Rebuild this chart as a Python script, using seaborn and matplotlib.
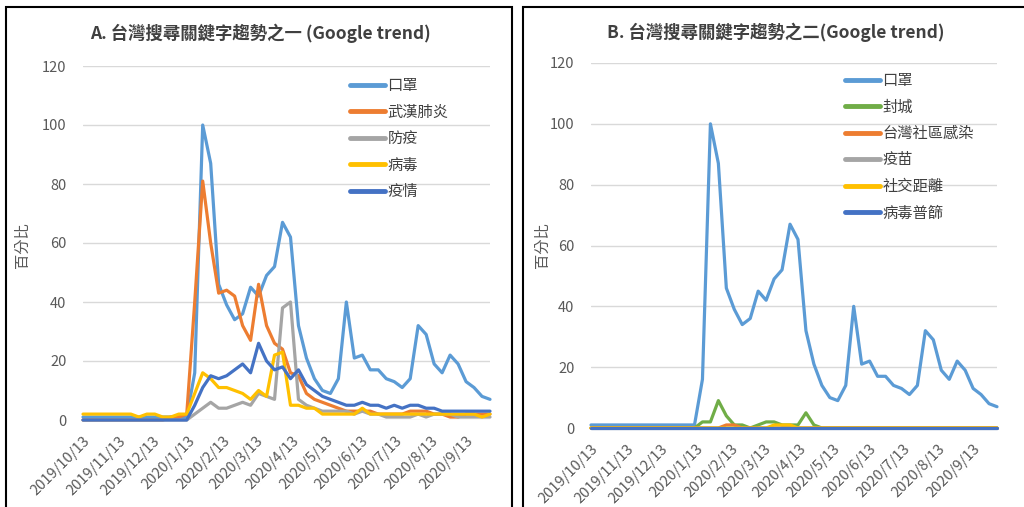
import pandas as pd
import numpy as np
import matplotlib
matplotlib.use('Agg')
import matplotlib.pyplot as plt
import seaborn as sns

sns.set_style('white')
plt.rcParams['font.family'] = ['Noto Sans CJK TC', 'DejaVu Sans']

# 每週資料 2019/10/13 ~ 2020/10/4 (52 週)
dates = pd.date_range('2019-10-13', periods=52, freq='7D')

mask = [1, 1, 1, 1, 1, 1, 1, 1, 1, 1, 1, 1, 1, 1,
        16, 100, 87, 46, 39, 34, 36, 45, 42, 49, 52, 67, 62, 32, 21, 14, 10, 9, 14, 40,
        21, 22, 17, 17, 14, 13, 11, 14, 32, 29, 19, 16, 22, 19, 13, 11, 8, 7]
wuhan = [0, 0, 0, 0, 0, 0, 0, 0, 0, 0, 0, 1, 1, 2,
         40, 81, 60, 43, 44, 42, 32, 27, 46, 32, 26, 24, 16, 15, 9, 7, 6, 5, 4, 3,
         3, 3, 3, 2, 2, 2, 2, 3, 3, 3, 2, 2, 1, 1, 2, 2, 2, 2]
fangyi = [0, 0, 0, 0, 0, 0, 0, 0, 0, 0, 0, 0, 0, 0,
          2, 4, 6, 4, 4, 5, 6, 5, 9, 8, 7, 38, 40, 7, 5, 4, 3, 3, 3, 3,
          2, 3, 2, 2, 1, 1, 1, 1, 2, 1, 2, 2, 2, 1, 1, 1, 1, 1]
virus = [2, 2, 2, 2, 2, 2, 2, 1, 2, 2, 1, 1, 2, 2,
         9, 16, 14, 11, 11, 10, 9, 7, 10, 8, 22, 23, 5, 5, 4, 4, 2, 2, 2, 2,
         2, 4, 2, 2, 2, 2, 2, 2, 2, 2, 2, 2, 2, 2, 2, 2, 1, 2]
epidemic = [0, 0, 0, 0, 0, 0, 0, 0, 0, 0, 0, 0, 0, 0,
            5, 11, 15, 14, 15, 17, 19, 16, 26, 20, 17, 18, 14, 17, 12, 10, 8, 7, 6, 5,
            5, 6, 5, 5, 4, 5, 4, 5, 5, 4, 4, 3, 3, 3, 3, 3, 3, 3]

lockdown = [0, 0, 0, 0, 0, 0, 0, 0, 0, 0, 0, 0, 0, 0,
            2, 2, 9, 4, 1, 1, 0, 1, 2, 2, 1, 1, 1, 5, 1, 0, 0, 0, 0, 0,
            0, 0, 0, 0, 0, 0, 0, 0, 0, 0, 0, 0, 0, 0, 0, 0, 0, 0]
community = [0, 0, 0, 0, 0, 0, 0, 0, 0, 0, 0, 0, 0, 0,
             0, 0, 0, 1, 1, 0, 0, 0, 0, 0, 0, 0, 0, 0, 0, 0, 0, 0, 0, 0,
             0, 0, 0, 0, 0, 0, 0, 0, 0, 0, 0, 0, 0, 0, 0, 0, 0, 0]
vaccine = [0, 0, 0, 0, 0, 0, 0, 0, 0, 0, 0, 0, 0, 0,
           0, 0, 0, 0, 0, 0, 0, 0, 0, 0, 0, 0, 0, 0, 0, 0, 0, 0, 0, 0,
           0, 0, 0, 0, 0, 0, 0, 0, 0, 0, 0, 0, 0, 0, 0, 0, 0, 0]
distancing = [0, 0, 0, 0, 0, 0, 0, 0, 0, 0, 0, 0, 0, 0,
              0, 0, 0, 0, 0, 0, 0, 0, 0, 1, 1, 1, 0, 0, 0, 0, 0, 0, 0, 0,
              0, 0, 0, 0, 0, 0, 0, 0, 0, 0, 0, 0, 0, 0, 0, 0, 0, 0]
screening = [0, 0, 0, 0, 0, 0, 0, 0, 0, 0, 0, 0, 0, 0,
             0, 0, 0, 0, 0, 0, 0, 0, 0, 0, 0, 0, 0, 0, 0, 0, 0, 0, 0, 0,
             0, 0, 0, 0, 0, 0, 0, 0, 0, 0, 0, 0, 0, 0, 0, 0, 0, 0]

names_a = ['口罩', '武漢肺炎', '防疫', '病毒', '疫情']
series_a = [mask, wuhan, fangyi, virus, epidemic]
colors_a = ['#5B9BD5', '#ED7D31', '#A5A5A5', '#FFC000', '#4472C4']

names_b = ['口罩', '封城', '台灣社區感染', '疫苗', '社交距離', '病毒普篩']
series_b = [mask, lockdown, community, vaccine, distancing, screening]
colors_b = ['#5B9BD5', '#70AD47', '#ED7D31', '#A5A5A5', '#FFC000', '#4472C4']

tick_dates = [pd.Timestamp(2019, 10, 13) + pd.DateOffset(months=k) for k in range(12)]
tick_labels = [f'{d.year}/{d.month}/{d.day}' for d in tick_dates]

W, H = 1024, 507
fig = plt.figure(figsize=(W / 100, H / 100), dpi=100)
txt = '#595959'


def panel(ax, names, series, colors, title, title_xy, leg_xy, ylab_xy):
    df = pd.DataFrame({'week': np.tile(dates, len(names)),
                       'kw': np.repeat(names, len(dates)),
                       'val': np.concatenate(series)})
    sns.lineplot(data=df, x='week', y='val', hue='kw', hue_order=names,
                 palette=colors, lw=2.3, ax=ax)
    for i, line in enumerate(ax.lines):
        line.set_clip_on(False)
        line.set_zorder(3 + i * 0.1)
    ax.set_xlim(dates[0], dates[-1])
    ax.set_ylim(0, 120)
    ax.set_yticks(range(0, 121, 20))
    ax.set_xticks(tick_dates)
    ax.set_xticklabels(tick_labels, rotation=45, ha='right', rotation_mode='anchor')
    ax.tick_params(axis='both', length=0, labelsize=10.5, colors=txt)
    ax.tick_params(axis='y', pad=12)
    ax.tick_params(axis='x', pad=10)
    ax.grid(axis='y', color='#D9D9D9', lw=1)
    ax.set_axisbelow(True)
    for s in ax.spines.values():
        s.set_visible(False)
    ax.set_xlabel('')
    ax.set_ylabel('')

    handles, labels = ax.get_legend_handles_labels()
    leg = ax.legend(handles, labels, loc='upper left',
                    bbox_to_anchor=(leg_xy[0] / W, 1 - leg_xy[1] / H),
                    bbox_transform=fig.transFigure, frameon=False,
                    handlelength=2.3, handletextpad=0.15, labelspacing=0.62,
                    fontsize=11, borderpad=0, borderaxespad=0)
    for line in leg.get_lines():
        line.set_linewidth(3.5)
    for t in leg.get_texts():
        t.set_color('#404040')

    fig.text(title_xy[0] / W, 1 - title_xy[1] / H, title, ha='center', va='center',
             fontsize=12.5, fontweight='bold', color='#404040')
    fig.text(ylab_xy[0] / W, 1 - ylab_xy[1] / H, '百分比', rotation=90,
             ha='center', va='center', fontsize=11, color=txt)


axA = fig.add_axes([83 / W, 1 - 420 / H, 407 / W, 354 / H])
axB = fig.add_axes([591 / W, 1 - 428 / H, 406 / W, 365 / H])

panel(axA, names_a, series_a, colors_a, 'A. 台灣搜尋關鍵字趨勢之一 (Google trend)',
      (260, 33), (350, 77), (22, 245))
panel(axB, names_b, series_b, colors_b, 'B. 台灣搜尋關鍵字趨勢之二(Google trend)',
      (776, 32), (845, 72), (542, 245))

fig.add_artist(plt.Rectangle((6 / W, -0.1), 506 / W, 1.1 - 7 / H, transform=fig.transFigure,
                             fill=False, edgecolor='black', lw=1.5))
fig.add_artist(plt.Rectangle((523 / W, -0.1), 510 / W, 1.1 - 7 / H, transform=fig.transFigure,
                             fill=False, edgecolor='black', lw=1.5))

fig.savefig('out.png', dpi=100)
